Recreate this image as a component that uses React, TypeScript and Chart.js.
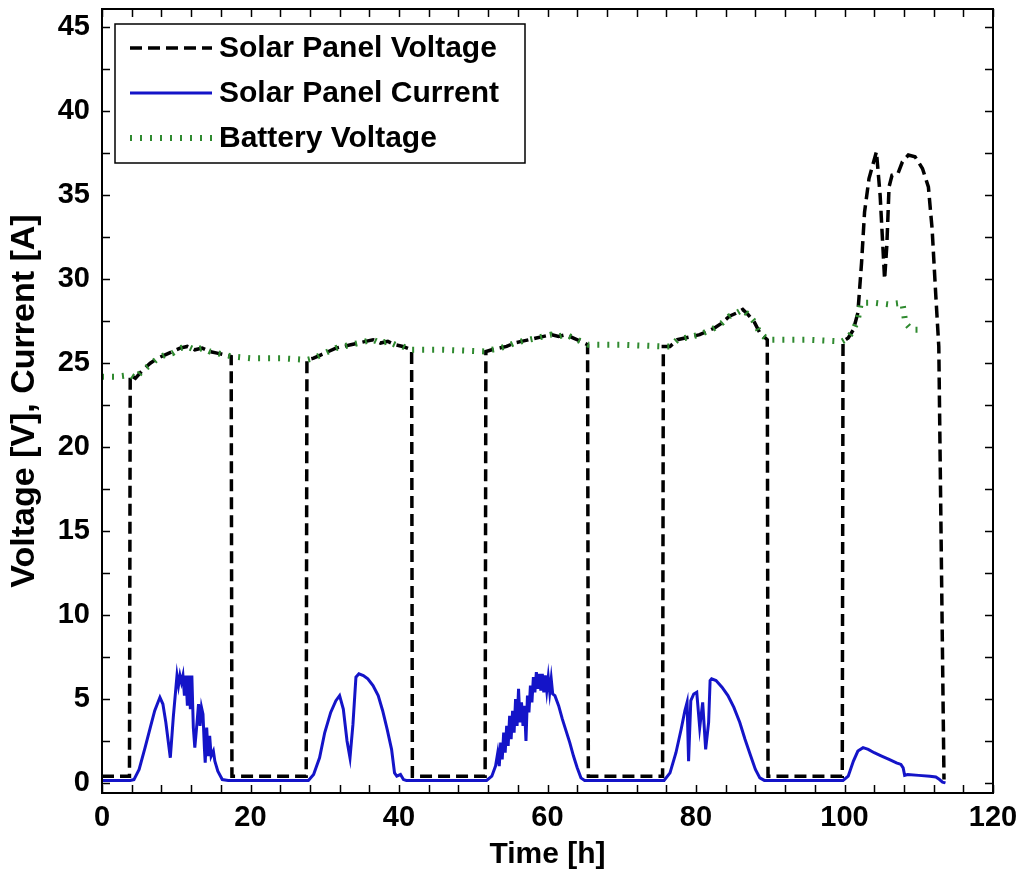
import React, { useEffect, useRef } from "react";
import { Chart, registerables } from "chart.js";

Chart.register(...registerables);

// ---------- data ----------
const seriesLabels = ["Solar Panel Voltage", "Solar Panel Current", "Battery Voltage"];

const xTickValues = [0, 20, 40, 60, 80, 100, 120];
const yTickValues = [0, 5, 10, 15, 20, 25, 30, 35, 40, 45];
const xMinorTicks = [0, 4, 8, 12, 16, 20, 24, 28, 32, 36, 40, 44, 48, 52, 56, 60, 64, 68, 72, 76, 80, 84, 88, 92, 96, 100, 104, 108, 112, 116, 120];
const yMinorTicks = [0, 2.5, 5, 7.5, 10, 12.5, 15, 17.5, 20, 22.5, 25, 27.5, 30, 32.5, 35, 37.5, 40, 42.5, 45];

// Solar panel voltage [V]
const spvTime = [
  0, 3.7, 3.8, 4.5, 5.5, 6.5, 7.5, 8.5, 9.5, 10.5, 11.5, 12.5, 13.5, 14.5, 15.5, 16.5, 17.4, 17.5,
  27.5, 27.6, 28.5, 29.5, 30.5, 31.5, 32.5, 33.5, 34.5, 35.5, 36.5, 37.5, 38.5, 39.5, 40.5, 41.7, 41.8,
  51.6, 51.7, 52.5, 53.5, 54.5, 55.5, 56.5, 57.5, 58.5, 59.5, 60.5, 61.5, 62.5, 63.5, 64.5, 65.4, 65.5,
  75.5, 75.6, 76.5, 77.5, 78.5, 79.5, 80.5, 81.5, 82.5, 83.5, 84.5, 85.5, 86.3, 87, 87.8, 88.6, 89.6, 89.7,
  99.7, 99.8, 100.5, 101.2, 101.8, 102.3, 102.7, 103.3, 104.3, 104.8, 105.4, 105.7, 106.0, 106.4, 107.2, 107.8, 108.6, 109.5, 110.5, 111.3, 111.8, 112.3, 112.7, 113.0, 113.4
];
const spvVolt = [
  0.4, 0.4, 24.3, 24.1, 24.6, 25.0, 25.3, 25.5, 25.7, 25.9, 26.0, 25.8, 25.9, 25.7, 25.6, 25.5, 25.4, 0.4,
  0.4, 25.2, 25.3, 25.5, 25.7, 25.9, 26.0, 26.1, 26.2, 26.3, 26.4, 26.2, 26.3, 26.1, 26.0, 25.8, 0.4,
  0.4, 25.7, 25.8, 25.9, 26.0, 26.2, 26.3, 26.4, 26.5, 26.6, 26.7, 26.6, 26.7, 26.5, 26.3, 26.1, 0.4,
  0.4, 26.0, 26.0, 26.4, 26.5, 26.6, 26.7, 26.9, 27.1, 27.4, 27.8, 28.0, 28.2, 27.9, 27.5, 26.8, 26.4, 0.4,
  0.4, 26.3, 26.5, 27.0, 28.0, 31.0, 34.0, 36.0, 37.6, 35.0, 30.0, 32.0, 35.5, 36.2, 36.3, 37.0, 37.4, 37.3, 36.6, 35.5, 33.0, 29.0, 26.0, 15.0, 0.2
];

// Solar panel current [A], one pair of arrays per day
const currTimeDay1 = [0, 3.8, 4.3, 5.0, 5.8, 6.5, 7.1, 7.8, 8.2, 8.6, 9.2, 9.6, 10.1, 10.3, 10.5, 10.7, 10.9, 11.1, 11.3, 11.5, 11.7, 11.9, 12.1, 12.3, 12.5, 12.8, 13.0, 13.2, 13.4, 13.6, 13.8, 13.9, 14.1, 14.3, 14.5, 14.7, 15.0, 15.2, 15.6, 16.2, 17.0];
const currAmpDay1 = [0.15, 0.15, 0.2, 0.8, 2.1, 3.3, 4.3, 5.1, 4.7, 3.6, 1.5, 3.9, 6.4, 5.8, 6.4, 6.0, 6.4, 5.2, 6.4, 4.6, 6.4, 4.4, 6.4, 3.3, 2.1, 3.6, 4.7, 3.4, 4.5, 4.1, 2.0, 1.2, 3.3, 1.6, 2.8, 1.6, 1.9, 1.3, 0.7, 0.2, 0.15];
const currTimeDay2 = [27.8, 28.5, 29.3, 30.0, 30.8, 31.5, 32.0, 32.5, 33.0, 33.4, 33.8, 34.2, 34.6, 35.2, 35.8, 36.5, 37.2, 37.8, 38.4, 39.0, 39.4, 39.7, 40.2, 40.6, 41.0];
const currAmpDay2 = [0.15, 0.5, 1.5, 3.0, 4.2, 4.9, 5.2, 4.4, 2.5, 1.5, 3.5, 6.3, 6.5, 6.4, 6.2, 5.8, 5.2, 4.3, 3.2, 2.0, 0.6, 0.4, 0.5, 0.2, 0.15];
const currTimeDay3 = [51.8, 52.5, 53.0, 53.3, 53.5, 53.7, 53.9, 54.1, 54.3, 54.5, 54.7, 54.9, 55.1, 55.3, 55.5, 55.7, 55.9, 56.1, 56.3, 56.5, 56.7, 56.9, 57.1, 57.3, 57.5, 57.7, 57.9, 58.1, 58.3, 58.5, 58.7, 58.9, 59.1, 59.3, 59.5, 59.7, 59.9, 60.1, 60.3, 60.5, 60.7, 61.0, 61.5, 62.0, 62.5, 63.0, 63.5, 64.0, 64.5, 65.0];
const currAmpDay3 = [0.15, 0.4, 1.0, 1.8, 1.0, 2.4, 1.4, 3.0, 1.8, 3.4, 2.2, 4.0, 2.6, 4.3, 3.0, 5.0, 3.4, 5.6, 3.6, 4.8, 3.4, 4.6, 2.5, 5.2, 4.2, 5.8, 4.8, 6.3, 5.4, 6.6, 5.6, 6.5, 5.5, 6.5, 5.4, 6.4, 5.5, 6.3, 5.4, 6.2, 5.3, 5.2, 4.6, 3.8, 3.1, 2.4, 1.6, 0.9, 0.3, 0.15];
const currTimeDay4 = [75.7, 76.5, 77.3, 78.0, 78.5, 78.8, 79.0, 79.3, 79.7, 80.1, 80.5, 80.9, 81.3, 81.7, 81.9, 82.1, 82.7, 83.5, 84.3, 85.1, 85.9, 86.6, 87.3, 88.0, 88.6, 89.2];
const currAmpDay4 = [0.15, 0.6, 1.8, 3.2, 4.3, 4.8, 1.3, 4.9, 5.3, 5.4, 3.3, 4.8, 2.0, 3.6, 6.1, 6.2, 6.1, 5.7, 5.2, 4.5, 3.6, 2.6, 1.7, 0.8, 0.3, 0.15];
const currTimeDay5 = [99.8, 100.5, 101.2, 101.8, 102.5, 103.2, 104.0, 105.0, 106.0, 107.0, 107.6, 107.9, 108.1, 108.5, 110.0, 111.5, 112.3, 112.8, 113.2, 113.6];
const currAmpDay5 = [0.15, 0.4, 1.3, 1.9, 2.1, 2.0, 1.8, 1.6, 1.4, 1.2, 1.1, 0.9, 0.45, 0.5, 0.45, 0.4, 0.35, 0.2, 0.05, 0.0];

// Battery voltage [V]
const batTime = [
  0, 2, 3.8, 4.5, 5.5, 6.5, 7.5, 8.5, 9.5, 10.5, 11.5, 12.5, 13.5, 14.5, 15.5, 16.5, 17.5, 20, 24, 27.6,
  28.5, 29.5, 30.5, 31.5, 32.5, 33.5, 34.5, 35.5, 36.5, 37.5, 38.5, 39.5, 40.5, 41.5, 42, 46, 51.7,
  52.5, 53.5, 54.5, 55.5, 56.5, 57.5, 58.5, 59.5, 60.5, 61.5, 62.5, 63.5, 64.5, 65.5, 70, 75.6,
  76.5, 77.5, 78.5, 79.5, 80.5, 81.5, 82.5, 83.5, 84.5, 85.5, 86.3, 87, 87.8, 88.6, 89.4, 89.8, 95, 99.7,
  100.5, 101.2, 101.8, 102.2, 104, 106, 107.8, 108.2, 109, 110.2
];
const batVolt = [
  24.2, 24.2, 24.3, 24.1, 24.6, 24.9, 25.3, 25.5, 25.6, 25.9, 26.0, 25.8, 25.9, 25.7, 25.6, 25.5, 25.4, 25.3, 25.3, 25.2,
  25.3, 25.5, 25.7, 25.9, 26.0, 26.1, 26.2, 26.3, 26.4, 26.2, 26.3, 26.1, 26.0, 25.8, 25.8, 25.8, 25.7,
  25.8, 25.9, 26.0, 26.2, 26.3, 26.4, 26.5, 26.6, 26.7, 26.6, 26.7, 26.5, 26.3, 26.1, 26.1, 26.0,
  26.0, 26.4, 26.5, 26.6, 26.7, 26.9, 27.1, 27.4, 27.8, 28.0, 28.2, 27.9, 27.5, 26.8, 26.5, 26.4, 26.4, 26.3,
  26.5, 27.0, 27.6, 28.6, 28.6, 28.5, 28.6, 27.4, 27.0, 27.0
];

// ---------- styling ----------
const FONT = '"Liberation Sans", Arial, sans-serif';
const COLORS = ["#000000", "#1414c8", "#2f8a2f"];

const zip = (xs: number[], ys: number[]) => xs.map((x, i) => ({ x, y: ys[i] }));

const currTime = [...currTimeDay1, ...currTimeDay2, ...currTimeDay3, ...currTimeDay4, ...currTimeDay5];
const currAmp = [...currAmpDay1, ...currAmpDay2, ...currAmpDay3, ...currAmpDay4, ...currAmpDay5];

const framePlugin = {
  id: "frameAndLegend",
  afterDatasetsDraw(chart: any) {
    const { ctx, chartArea } = chart;
    const { left, right, top, bottom } = chartArea;
    const xs = chart.scales.x;
    const ys = chart.scales.y;
    ctx.save();
    // inward ticks on all four sides
    ctx.strokeStyle = "#000";
    ctx.lineWidth = 1.5;
    ctx.setLineDash([]);
    ctx.beginPath();
    const tl = 8;
    xMinorTicks.forEach((v) => {
      const px = Math.round(xs.getPixelForValue(v)) + 0.5;
      ctx.moveTo(px, bottom);
      ctx.lineTo(px, bottom - tl);
      ctx.moveTo(px, top);
      ctx.lineTo(px, top + tl);
    });
    yMinorTicks.forEach((v) => {
      const py = Math.round(ys.getPixelForValue(v)) + 0.5;
      ctx.moveTo(left, py);
      ctx.lineTo(left + tl, py);
      ctx.moveTo(right, py);
      ctx.lineTo(right - tl, py);
    });
    ctx.stroke();
    ctx.lineWidth = 2;
    ctx.strokeRect(left, top, right - left, bottom - top);

    // legend box
    const bx = left + 13;
    const by = top + 15;
    const bw = 410;
    const bh = 139;
    ctx.fillStyle = "#fff";
    ctx.fillRect(bx, by, bw, bh);
    ctx.lineWidth = 1.5;
    ctx.strokeStyle = "#000";
    ctx.strokeRect(bx, by, bw, bh);
    ctx.font = `bold 30px ${FONT}`;
    ctx.textBaseline = "middle";
    ctx.textAlign = "left";
    chart.data.datasets.forEach((ds: any, i: number) => {
      const cy = by + 24 + i * 45;
      ctx.save();
      ctx.strokeStyle = ds.borderColor;
      ctx.lineWidth = ds.borderWidth;
      ctx.setLineDash(ds.borderDash || []);
      ctx.lineCap = "butt";
      ctx.beginPath();
      ctx.moveTo(bx + 15, cy);
      ctx.lineTo(bx + 97, cy);
      ctx.stroke();
      ctx.restore();
      ctx.fillStyle = "#000";
      ctx.fillText(ds.label, bx + 104, cy + 1);
    });
    ctx.restore();
  },
};

export default function App() {
  const ref = useRef<HTMLCanvasElement>(null);

  useEffect(() => {
    if (!ref.current) return;
    const tickFont = { family: FONT, size: 29, weight: "bold" as const };
    const chart = new Chart(ref.current, {
      type: "line",
      data: {
        datasets: [
          {
            label: seriesLabels[0],
            data: zip(spvTime, spvVolt),
            borderColor: COLORS[0],
            borderWidth: 3.5,
            borderDash: [12, 6],
            pointRadius: 0,
            tension: 0,
            order: 3,
          },
          {
            label: seriesLabels[1],
            data: zip(currTime, currAmp),
            borderColor: COLORS[1],
            borderWidth: 3,
            pointRadius: 0,
            tension: 0,
            order: 2,
          },
          {
            label: seriesLabels[2],
            data: zip(batTime, batVolt),
            borderColor: COLORS[2],
            borderWidth: 6,
            borderDash: [2, 8],
            borderCapStyle: "butt",
            pointRadius: 0,
            tension: 0,
            order: 1,
          },
        ],
      },
      options: {
        responsive: false,
        animation: false,
        devicePixelRatio: 1,
        layout: { padding: { top: 9, right: 31, left: 0, bottom: 0 } },
        plugins: {
          legend: { display: false },
          tooltip: { enabled: false },
        },
        scales: {
          x: {
            type: "linear",
            min: 0,
            max: 120,
            afterBuildTicks: (s: any) => {
              s.ticks = xTickValues.map((v) => ({ value: v }));
            },
            afterFit: (s: any) => {
              s.height = 80;
              s.paddingLeft = 0;
              s.paddingRight = 0;
            },
            ticks: { font: tickFont, color: "#000", padding: 8, maxRotation: 0, autoSkip: false },
            grid: { display: false, drawTicks: false },
            border: { display: false },
            title: {
              display: true,
              text: "Time [h]",
              color: "#000",
              font: { family: FONT, size: 30, weight: "bold" },
              padding: { top: 0, bottom: 0 },
            },
          },
          y: {
            type: "linear",
            min: -0.6,
            max: 46.1,
            afterBuildTicks: (s: any) => {
              s.ticks = yTickValues.map((v) => ({ value: v }));
            },
            afterFit: (s: any) => {
              s.width = 102;
              s.paddingTop = 0;
              s.paddingBottom = 0;
            },
            ticks: { font: tickFont, color: "#000", padding: 12, autoSkip: false },
            grid: { display: false, drawTicks: false },
            border: { display: false },
            title: {
              display: true,
              text: "Voltage [V], Current [A]",
              color: "#000",
              font: { family: FONT, size: 34, weight: "bold" },
              padding: { top: 4, bottom: 0 },
            },
          },
        },
      },
      plugins: [framePlugin],
    });
    return () => chart.destroy();
  }, []);

  return (
    <div style={{ position: "absolute", left: 0, top: 0, width: 1024, height: 873, background: "#fff" }}>
      <canvas ref={ref} width={1024} height={873} style={{ display: "block" }} />
    </div>
  );
}
